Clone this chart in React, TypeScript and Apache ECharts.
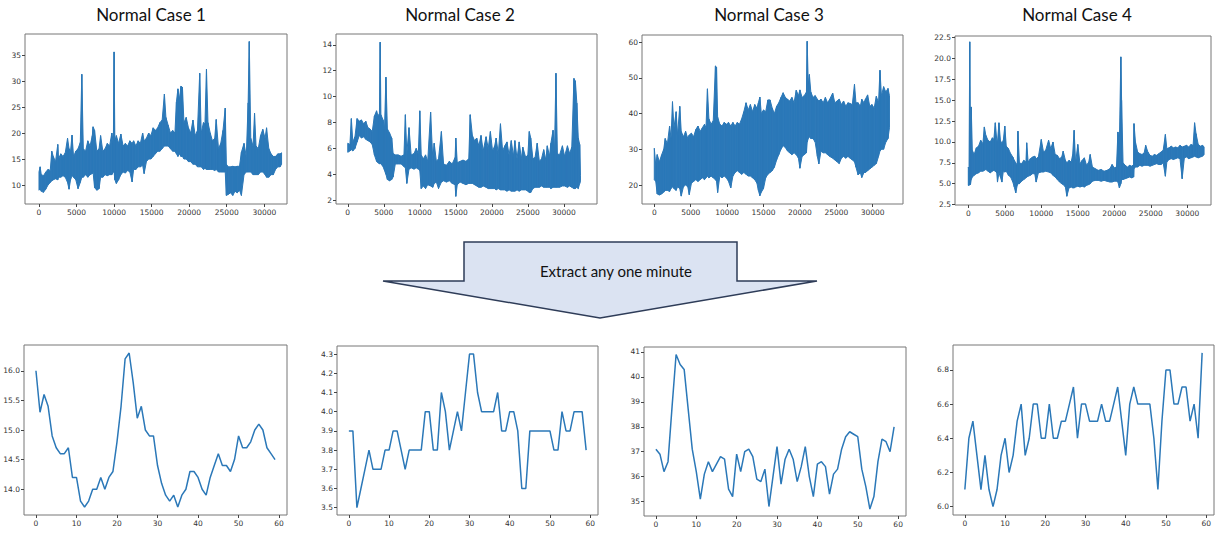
import React, { useEffect, useRef } from "react";
import * as echarts from "echarts";

// ---------- DATA ----------
// Top row: dense ~32k-point traces, recorded as [x, lower edge, upper edge] of the drawn band
const case1Band = [
  [0, 9.0, 12.5], [150, 9.3, 13.5], [300, 8.8, 12.0], [600, 8.6, 11.8], [900, 9.2, 12.5],
  [1200, 10.0, 13.0], [1500, 10.5, 12.8], [1700, 10.8, 16.5], [1900, 11.0, 15.5], [2200, 11.2, 14.5],
  [2500, 11.0, 17.8], [2600, 11.5, 15.0], [2900, 11.5, 16.0], [3200, 11.8, 15.5], [3500, 11.5, 16.2],
  [3800, 10.5, 19.0], [4000, 9.2, 17.0], [4200, 11.0, 16.5], [4400, 11.8, 19.6], [4600, 11.5, 15.5],
  [4900, 11.0, 16.5], [5200, 9.3, 17.0], [5500, 10.5, 18.2], [5700, 11.5, 31.3], [5900, 11.5, 17.0],
  [6200, 12.0, 16.5], [6500, 11.5, 18.5], [6800, 12.0, 17.5], [7100, 12.2, 19.5], [7200, 12.5, 21.2],
  [7400, 9.5, 20.5], [7700, 9.0, 16.5], [8000, 9.3, 17.0], [8200, 11.5, 19.5], [8500, 11.5, 16.5],
  [8800, 12.0, 17.0], [9100, 11.8, 18.0], [9400, 12.0, 17.5], [9700, 12.0, 20.0], [9900, 12.5, 18.0],
  [10000, 12.5, 35.6], [10100, 11.0, 18.5], [10300, 10.3, 19.5], [10600, 11.0, 18.0], [10900, 12.0, 19.8],
  [11200, 12.5, 17.5], [11500, 12.3, 18.0], [11800, 12.8, 17.5], [12100, 12.5, 18.5], [12400, 10.6, 18.0],
  [12600, 13.0, 18.5], [12900, 13.0, 17.5], [13200, 13.5, 18.5], [13500, 13.5, 18.0], [13800, 13.8, 20.0],
  [14000, 12.2, 18.5], [14300, 14.5, 19.0], [14600, 15.0, 20.0], [14900, 15.0, 19.5], [15200, 15.5, 21.0],
  [15500, 16.0, 20.5], [15800, 16.5, 21.0], [16100, 16.5, 22.0], [16400, 17.0, 22.5], [16700, 17.5, 27.5],
  [16900, 17.5, 23.0], [17200, 17.5, 21.5], [17500, 17.0, 20.0], [17800, 16.5, 20.5], [18100, 16.5, 20.0],
  [18300, 16.0, 26.0], [18500, 15.5, 28.5], [18700, 16.0, 26.5], [18900, 15.5, 29.0], [19100, 15.5, 28.8],
  [19300, 15.0, 22.0], [19600, 15.0, 23.0], [19900, 14.5, 21.0], [20200, 14.5, 20.0], [20500, 14.0, 22.5],
  [20800, 14.0, 19.5], [21100, 13.5, 20.5], [21400, 13.5, 31.5], [21600, 13.5, 20.0], [21900, 13.0, 22.0],
  [22100, 13.2, 21.8], [22300, 13.0, 32.3], [22500, 13.0, 22.0], [22800, 13.0, 20.0], [23100, 13.0, 18.5],
  [23400, 12.8, 19.0], [23600, 13.0, 22.6], [23900, 12.5, 17.0], [24200, 12.5, 18.0], [24500, 12.5, 20.5],
  [24800, 12.5, 24.8], [24950, 8.0, 14.0], [25200, 8.2, 13.5], [25500, 8.5, 13.5], [25800, 8.0, 13.6],
  [26100, 8.8, 13.5], [26400, 8.5, 13.6], [26700, 9.0, 13.6], [26950, 8.0, 16.3], [27300, 12.0, 18.0],
  [27600, 12.5, 15.5], [27850, 12.5, 25.8], [28000, 12.5, 37.6], [28200, 12.5, 19.0], [28500, 12.0, 17.5],
  [28700, 12.0, 23.8], [28900, 12.0, 17.5], [29200, 12.0, 17.0], [29500, 12.5, 19.5], [29800, 12.5, 20.7],
  [30100, 12.0, 19.0], [30300, 11.5, 21.0], [30600, 11.5, 17.0], [30900, 12.0, 16.0], [31200, 12.0, 15.5],
  [31500, 13.0, 15.5], [31800, 13.5, 16.0], [32100, 13.5, 16.0], [32300, 14.0, 16.2],
];

const case2Band = [
  [0, 5.7, 6.4], [300, 5.8, 6.3], [500, 5.9, 8.3], [700, 5.8, 6.5], [1000, 6.0, 6.9],
  [1300, 6.5, 8.3], [1600, 7.0, 8.1], [1900, 6.8, 8.2], [2200, 6.9, 7.9], [2500, 6.7, 8.1],
  [2800, 6.6, 7.6], [3100, 6.5, 7.5], [3400, 6.3, 7.3], [3700, 5.5, 8.5], [4000, 5.0, 8.9],
  [4200, 4.9, 8.5], [4400, 4.8, 8.7], [4500, 5.0, 14.2], [4600, 4.8, 8.6], [4900, 4.6, 8.2],
  [5100, 4.3, 7.5], [5300, 4.0, 11.5], [5500, 3.6, 7.5], [5800, 3.5, 7.2], [6100, 3.6, 6.8],
  [6300, 3.8, 5.6], [6600, 4.8, 5.5], [7000, 4.8, 5.5], [7400, 4.8, 5.4], [7800, 4.6, 5.5],
  [8000, 4.5, 8.6], [8200, 3.3, 5.6], [8500, 4.4, 7.6], [8800, 4.5, 5.5], [9200, 4.4, 5.6],
  [9500, 4.5, 6.0], [9800, 4.4, 5.6], [10000, 4.3, 8.9], [10200, 2.9, 5.5], [10500, 3.1, 5.2],
  [10800, 2.9, 5.5], [11100, 3.2, 5.0], [11500, 3.1, 8.8], [11800, 3.0, 5.2], [12000, 3.3, 6.4],
  [12300, 3.4, 5.0], [12600, 2.9, 5.2], [13000, 3.4, 7.3], [13300, 3.5, 4.8], [13700, 3.4, 4.7],
  [14100, 3.5, 5.0], [14500, 3.3, 4.8], [14900, 3.2, 5.3], [15000, 2.3, 6.8], [15200, 3.2, 4.9],
  [15600, 3.4, 5.0], [16000, 3.3, 5.1], [16400, 3.2, 5.0], [16800, 3.3, 5.2], [17000, 3.3, 8.6],
  [17300, 3.3, 7.0], [17600, 3.2, 6.6], [17900, 3.1, 6.8], [18200, 3.0, 6.2], [18500, 3.0, 7.0],
  [18800, 3.1, 5.8], [19200, 3.0, 6.9], [19500, 2.9, 6.0], [19800, 2.9, 7.3], [20100, 2.9, 5.8],
  [20400, 2.9, 6.2], [20600, 2.8, 6.8], [20900, 2.9, 5.6], [21200, 2.8, 7.9], [21500, 2.8, 5.8],
  [21800, 2.8, 6.2], [22100, 2.7, 6.5], [22400, 2.8, 5.5], [22700, 2.7, 6.6], [23000, 2.7, 5.4],
  [23200, 2.7, 6.6], [23500, 2.8, 5.2], [23800, 2.7, 6.5], [24100, 2.8, 5.2], [24300, 2.8, 6.1],
  [24700, 2.8, 5.3], [25000, 2.7, 5.5], [25200, 2.6, 7.3], [25400, 2.6, 6.8], [25700, 2.9, 5.2],
  [26000, 3.0, 5.3], [26300, 3.0, 6.4], [26600, 3.0, 5.0], [26900, 3.1, 5.2], [27200, 3.0, 5.9],
  [27500, 3.0, 5.1], [27700, 3.0, 6.2], [28000, 3.0, 5.4], [28200, 2.9, 6.4], [28500, 3.0, 7.4],
  [28700, 3.0, 5.8], [28900, 3.0, 11.8], [29100, 3.0, 5.6], [29400, 3.0, 5.5], [29800, 3.1, 6.2],
  [30100, 3.1, 5.4], [30500, 3.0, 6.2], [30800, 3.1, 5.6], [31100, 3.0, 6.1], [31400, 2.9, 11.4],
  [31600, 2.9, 11.2], [31800, 3.0, 9.5], [32000, 2.9, 6.8], [32200, 3.3, 6.3], [32300, 3.5, 3.9],
];

const case3Band = [
  [0, 21.5, 30.3], [200, 21.0, 25.5], [400, 17.5, 28.5], [700, 17.2, 26.5], [1000, 17.5, 28.4],
  [1300, 18.0, 30.0], [1500, 18.5, 33.0], [1800, 18.5, 31.5], [2100, 18.2, 36.5], [2300, 19.0, 33.0],
  [2500, 19.5, 43.3], [2700, 19.0, 36.0], [3000, 18.5, 40.5], [3200, 19.5, 34.0], [3500, 19.0, 42.0],
  [3700, 16.9, 35.0], [4000, 19.5, 33.5], [4300, 20.0, 35.0], [4600, 19.5, 33.0], [4800, 17.3, 34.0],
  [5100, 20.5, 34.5], [5400, 21.0, 33.5], [5700, 21.5, 35.5], [6000, 21.0, 36.5], [6300, 21.5, 35.0],
  [6600, 22.0, 36.0], [6900, 21.5, 37.0], [7100, 22.0, 36.0], [7300, 22.5, 46.9], [7500, 22.0, 38.5],
  [7800, 22.5, 37.0], [8100, 22.0, 38.0], [8400, 21.5, 53.3], [8550, 21.0, 53.0], [8700, 17.9, 39.0],
  [9000, 22.5, 37.0], [9300, 22.0, 36.5], [9600, 22.5, 37.5], [9900, 22.0, 37.0], [10200, 21.0, 37.5],
  [10500, 19.2, 36.5], [10800, 22.5, 37.5], [11100, 23.5, 36.5], [11400, 24.0, 37.5], [11700, 23.5, 37.0],
  [12000, 23.0, 38.5], [12300, 23.5, 40.5], [12600, 23.0, 43.0], [12900, 22.5, 41.0], [13200, 22.5, 42.5],
  [13500, 22.0, 40.5], [13800, 21.5, 42.5], [14100, 20.5, 41.5], [14300, 18.5, 43.0], [14500, 17.0, 44.6],
  [14700, 18.0, 40.0], [15000, 19.0, 41.0], [15300, 22.0, 40.5], [15600, 23.0, 43.8], [15900, 23.5, 43.8],
  [16200, 24.0, 41.5], [16500, 25.0, 40.0], [16800, 27.0, 42.0], [17100, 28.5, 43.0], [17400, 30.0, 44.5],
  [17700, 31.0, 45.8], [18000, 30.5, 44.5], [18300, 29.5, 44.0], [18600, 29.0, 43.5], [18900, 28.5, 44.5],
  [19200, 29.0, 43.0], [19500, 28.5, 46.5], [19800, 27.5, 45.0], [20000, 24.7, 46.6], [20300, 28.0, 44.5],
  [20600, 28.5, 45.0], [20900, 29.0, 46.0], [21000, 32.0, 60.2], [21150, 33.0, 48.0], [21300, 33.5, 50.9],
  [21500, 33.0, 46.0], [21800, 33.0, 44.5], [22100, 32.0, 45.0], [22400, 28.0, 44.0], [22600, 25.9, 43.5],
  [22900, 29.5, 44.0], [23200, 29.0, 43.0], [23500, 29.0, 44.5], [23800, 28.5, 43.0], [24100, 28.0, 44.0],
  [24500, 27.5, 45.7], [24800, 27.0, 43.0], [25100, 26.5, 43.5], [25400, 26.0, 44.0], [25700, 27.5, 42.5],
  [26000, 28.0, 43.5], [26300, 27.5, 42.0], [26600, 28.0, 43.0], [26900, 27.5, 42.8], [27200, 27.0, 42.5],
  [27500, 26.5, 48.2], [27700, 25.0, 43.0], [28000, 22.8, 43.0], [28300, 23.5, 42.0], [28500, 22.1, 44.0],
  [28800, 23.5, 43.0], [29000, 23.5, 44.0], [29300, 24.0, 45.2], [29600, 24.5, 42.0], [29900, 25.0, 42.5],
  [30200, 25.5, 41.5], [30500, 26.0, 44.8], [30800, 28.0, 43.0], [31000, 29.5, 52.1], [31200, 30.0, 45.0],
  [31500, 30.0, 47.5], [31800, 32.0, 46.0], [32100, 33.0, 47.0], [32300, 36.0, 45.0],
];

const case4Band = [
  [0, 4.8, 7.0], [100, 4.8, 6.5], [200, 5.0, 22.0], [300, 4.9, 8.0], [400, 5.5, 14.2],
  [550, 5.8, 9.0], [800, 6.0, 8.5], [1100, 6.2, 9.3], [1400, 6.3, 9.5], [1700, 6.5, 10.2],
  [2000, 6.5, 9.8], [2200, 6.6, 11.8], [2400, 6.7, 10.8], [2700, 6.5, 10.2], [3000, 6.3, 10.0],
  [3300, 6.5, 10.5], [3500, 6.6, 10.3], [3700, 6.5, 12.3], [3900, 6.3, 10.2], [4000, 5.2, 10.0],
  [4200, 6.3, 12.3], [4400, 5.8, 10.2], [4600, 5.2, 9.8], [4800, 6.5, 10.2], [5000, 6.4, 11.9],
  [5200, 6.5, 9.5], [5500, 6.0, 9.2], [5800, 5.8, 8.6], [6100, 5.2, 8.2], [6300, 4.6, 7.8],
  [6500, 3.9, 7.5], [6700, 4.8, 7.2], [6800, 5.0, 11.3], [7000, 5.0, 7.5], [7300, 5.3, 7.4],
  [7600, 5.5, 7.8], [7900, 5.7, 7.6], [8000, 5.8, 9.9], [8200, 5.9, 7.6], [8500, 6.0, 8.0],
  [8800, 6.2, 8.2], [9100, 6.2, 8.3], [9300, 5.2, 8.0], [9600, 6.3, 8.2], [10000, 6.4, 10.3],
  [10300, 6.4, 8.8], [10600, 6.5, 9.0], [11000, 6.4, 10.2], [11300, 6.3, 9.2], [11600, 6.0, 10.0],
  [11900, 5.8, 8.5], [12200, 5.5, 8.4], [12500, 5.2, 8.0], [12800, 5.0, 8.2], [13000, 4.9, 8.9],
  [13300, 4.6, 7.8], [13500, 3.5, 7.5], [13800, 4.5, 7.8], [14100, 4.6, 7.6], [14300, 4.5, 8.5],
  [14500, 4.5, 11.4], [14700, 4.6, 7.5], [15000, 4.7, 9.7], [15300, 4.6, 7.4], [15600, 4.7, 7.8],
  [15900, 4.6, 8.1], [16200, 4.8, 7.2], [16500, 4.9, 7.6], [16700, 5.0, 8.5], [17000, 5.3, 7.0],
  [17400, 5.4, 6.8], [17800, 5.4, 6.6], [18200, 5.3, 6.7], [18600, 5.4, 6.5], [19000, 5.3, 6.6],
  [19400, 5.2, 6.8], [19700, 5.2, 7.3], [20000, 5.3, 6.9], [20300, 5.3, 7.0], [20500, 5.2, 11.2],
  [20700, 4.5, 10.0], [20900, 5.0, 20.2], [21000, 5.5, 15.0], [21200, 5.5, 7.5], [21500, 5.6, 7.2],
  [21800, 5.7, 7.0], [22100, 5.8, 7.2], [22400, 5.7, 7.1], [22650, 5.8, 7.3], [22700, 6.8, 12.2],
  [22900, 7.0, 10.0], [23200, 7.0, 8.8], [23500, 7.2, 8.6], [23800, 7.1, 8.5], [24100, 7.2, 8.7],
  [24300, 7.2, 9.6], [24600, 7.2, 8.8], [24900, 7.1, 8.4], [25200, 7.2, 8.3], [25500, 7.3, 8.5],
  [25800, 7.4, 8.4], [26100, 7.3, 8.6], [26400, 7.3, 8.8], [26700, 7.5, 9.0], [27000, 5.9, 10.9],
  [27200, 7.6, 9.2], [27500, 7.9, 9.3], [27800, 8.0, 9.5], [28100, 7.9, 9.3], [28400, 8.0, 9.4],
  [28700, 8.1, 9.3], [29000, 8.0, 9.6], [29300, 5.6, 9.4], [29600, 8.1, 9.5], [29900, 8.2, 9.6],
  [30200, 8.0, 9.4], [30500, 8.1, 9.7], [30800, 8.2, 9.6], [31000, 8.3, 12.3], [31200, 8.2, 11.0],
  [31500, 8.1, 9.7], [31800, 8.2, 9.5], [32100, 8.3, 9.6], [32300, 8.5, 9.4],
];

// Bottom row: one extracted minute (60 samples each)
const minute1 = [
  16.0, 15.3, 15.6, 15.4, 14.9, 14.7, 14.6, 14.6, 14.7, 14.2,
  14.2, 13.8, 13.7, 13.8, 14.0, 14.0, 14.2, 14.0, 14.2, 14.3,
  14.8, 15.4, 16.2, 16.3, 15.8, 15.2, 15.4, 15.0, 14.9, 14.9,
  14.4, 14.1, 13.9, 13.8, 13.9, 13.7, 13.9, 14.0, 14.3, 14.3,
  14.2, 14.0, 13.9, 14.2, 14.4, 14.6, 14.4, 14.4, 14.3, 14.5,
  14.9, 14.7, 14.7, 14.8, 15.0, 15.1, 15.0, 14.7, 14.6, 14.5,
];
const minute2 = [
  3.9, 3.9, 3.5, 3.6, 3.7, 3.8, 3.7, 3.7, 3.7, 3.8,
  3.8, 3.9, 3.9, 3.8, 3.7, 3.8, 3.8, 3.8, 3.8, 4.0,
  4.0, 3.8, 3.8, 4.1, 4.0, 3.8, 3.9, 4.0, 3.9, 4.1,
  4.3, 4.3, 4.1, 4.0, 4.0, 4.0, 4.0, 4.1, 3.9, 3.9,
  4.0, 4.0, 3.9, 3.6, 3.6, 3.9, 3.9, 3.9, 3.9, 3.9,
  3.9, 3.8, 3.8, 4.0, 3.9, 3.9, 4.0, 4.0, 4.0, 3.8,
];
const minute3 = [
  37.1, 36.9, 36.2, 36.6, 38.8, 40.9, 40.5, 40.3, 38.7, 37.1,
  36.2, 35.1, 36.1, 36.6, 36.2, 36.5, 36.8, 36.7, 35.5, 35.2,
  36.9, 36.2, 37.0, 37.1, 36.8, 35.9, 35.8, 36.3, 34.8, 36.0,
  37.2, 35.7, 36.7, 37.1, 36.7, 35.8, 36.4, 37.2, 36.0, 35.2,
  36.5, 36.6, 36.4, 35.3, 36.1, 36.3, 37.1, 37.6, 37.8, 37.7,
  37.6, 36.3, 35.6, 34.7, 35.2, 36.6, 37.5, 37.4, 37.0, 38.0,
];
const minute4 = [
  6.1, 6.4, 6.5, 6.3, 6.1, 6.3, 6.1, 6.0, 6.1, 6.3,
  6.4, 6.2, 6.3, 6.5, 6.6, 6.3, 6.4, 6.6, 6.6, 6.4,
  6.4, 6.6, 6.4, 6.4, 6.5, 6.5, 6.6, 6.7, 6.4, 6.6,
  6.6, 6.5, 6.5, 6.5, 6.6, 6.5, 6.5, 6.6, 6.7, 6.5,
  6.3, 6.6, 6.7, 6.6, 6.6, 6.6, 6.6, 6.4, 6.1, 6.5,
  6.8, 6.8, 6.6, 6.6, 6.7, 6.7, 6.5, 6.6, 6.4, 6.9,
];

const titles = ["Normal Case 1", "Normal Case 2", "Normal Case 3", "Normal Case 4"];
const arrowLabel = "Extract any one minute";

const topXTicks = [0, 5000, 10000, 15000, 20000, 25000, 30000];
const bottomXTicks = [0, 10, 20, 30, 40, 50, 60];
const topYTicks = [
  [10, 15, 20, 25, 30, 35],
  [2, 4, 6, 8, 10, 12, 14],
  [20, 30, 40, 50, 60],
  [2.5, 5, 7.5, 10, 12.5, 15, 17.5, 20, 22.5],
];
const bottomYTicks = [
  [14, 14.5, 15, 15.5, 16],
  [3.5, 3.6, 3.7, 3.8, 3.9, 4.0, 4.1, 4.2, 4.3],
  [35, 36, 37, 38, 39, 40, 41],
  [6.0, 6.2, 6.4, 6.6, 6.8],
];

// ---------- LAYOUT ----------
const topGrids = [
  { left: 25, top: 34, width: 262, height: 170, x: [-1864, 33023], y: [6.35, 39.05] },
  { left: 336, top: 34, width: 261, height: 170, x: [-1632, 34600], y: [1.71, 14.83] },
  { left: 642, top: 35, width: 261, height: 169, x: [-1689, 34162], y: [14.69, 61.96] },
  { left: 955, top: 36, width: 256, height: 169, x: [-1822, 33250], y: [2.45, 22.7] },
];
const bottomGrids = [
  { left: 24, top: 345, width: 263, height: 170, x: [-2.95, 61.95], y: [13.565, 16.435], dec: 1 },
  { left: 337, top: 346, width: 261, height: 169, x: [-2.95, 61.95], y: [3.462, 4.342], dec: 1 },
  { left: 644, top: 347, width: 262, height: 169, x: [-2.95, 61.95], y: [34.42, 41.2], dec: 0 },
  { left: 953, top: 345, width: 261, height: 170, x: [-2.95, 61.95], y: [5.951, 6.946], dec: 1 },
];
const titleCenters = [151, 460, 769, 1077];

const LINE = "#2b78b8";
const TICK_FONT = "DejaVu Sans";

function axisCommon(ticks: number[], fmt: (v: number) => string) {
  return {
    type: "value",
    axisLine: { show: false, onZero: false },
    splitLine: { show: false },
    axisTick: { show: true, inside: false, customValues: ticks, length: 3, lineStyle: { color: "#444", width: 1 } },
    axisLabel: {
      show: true,
      customValues: ticks,
      formatter: (v: number) => fmt(v),
      fontSize: 7.5,
      fontFamily: TICK_FONT,
      color: "#333",
      margin: 4,
      showMinLabel: true,
      showMaxLabel: true,
      hideOverlap: false,
    },
  };
}

// custom-series renderer: a filled quad between consecutive [x, lo, hi] records
function bandRenderer(band: number[][]) {
  return (params: any, api: any) => {
    const i = params.dataIndex;
    if (i >= band.length - 1) return { type: "group", children: [] };
    const a = band[i];
    const b = band[i + 1];
    const p1 = api.coord([a[0], a[1]]);
    const p2 = api.coord([a[0], a[2]]);
    const p3 = api.coord([b[0], b[2]]);
    const p4 = api.coord([b[0], b[1]]);
    return {
      type: "polygon",
      shape: { points: [p1, p2, p3, p4] },
      style: { fill: LINE, stroke: LINE, lineWidth: 1, lineJoin: "miter" },
      silent: true,
    };
  };
}

export default function App() {
  const ref = useRef<HTMLDivElement>(null);

  useEffect(() => {
    if (!ref.current) return;
    const chart = echarts.init(ref.current, undefined, { renderer: "svg" });

    const grids: any[] = [];
    const xAxes: any[] = [];
    const yAxes: any[] = [];
    const series: any[] = [];
    const bands = [case1Band, case2Band, case3Band, case4Band];
    const minutes = [minute1, minute2, minute3, minute4];

    topGrids.forEach((g, i) => {
      grids.push({
        left: g.left, top: g.top, width: g.width, height: g.height,
        show: true, borderColor: "#777", borderWidth: 1, backgroundColor: "transparent",
      });
      xAxes.push({ ...axisCommon(topXTicks, (v) => String(v)), gridIndex: i, position: "bottom", min: g.x[0], max: g.x[1] });
      const yFmt = i === 3 ? (v: number) => v.toFixed(1) : (v: number) => String(v);
      yAxes.push({ ...axisCommon(topYTicks[i], yFmt), gridIndex: i, position: "left", min: g.y[0], max: g.y[1] });
      const band = bands[i];
      series.push({
        type: "custom",
        xAxisIndex: i,
        yAxisIndex: i,
        silent: true,
        clip: true,
        encode: { x: 0, y: [1, 2] },
        data: band,
        renderItem: bandRenderer(band),
      });
    });

    bottomGrids.forEach((g, j) => {
      const i = j + 4;
      grids.push({
        left: g.left, top: g.top, width: g.width, height: g.height,
        show: true, borderColor: "#777", borderWidth: 1, backgroundColor: "transparent",
      });
      xAxes.push({ ...axisCommon(bottomXTicks, (v) => String(v)), gridIndex: i, position: "bottom", min: g.x[0], max: g.x[1] });
      yAxes.push({
        ...axisCommon(bottomYTicks[j], (v) => v.toFixed(g.dec)),
        gridIndex: i, position: "left", min: g.y[0], max: g.y[1],
      });
      series.push({
        type: "line", xAxisIndex: i, yAxisIndex: i, symbol: "none", silent: true,
        data: minutes[j].map((v, k) => [k, v]),
        lineStyle: { color: LINE, width: 1.5 },
      });
    });

    const graphic: any[] = titles.map((t, i) => ({
      type: "text",
      x: titleCenters[i],
      y: 14,
      style: {
        text: t, fill: "#111", fontSize: 17, fontFamily: "Lato",
        align: "center", verticalAlign: "middle", textAlign: "center", textVerticalAlign: "middle",
      },
    }));
    graphic.push({
      type: "polygon",
      shape: { points: [[464, 242], [737, 242], [737, 281], [817, 281], [600, 318], [383, 281], [464, 281]] },
      style: { fill: "#dbe3f2", stroke: "#2e3c58", lineWidth: 1.5 },
    });
    graphic.push({
      type: "text",
      x: 616,
      y: 271,
      style: {
        text: arrowLabel, fill: "#111", fontSize: 15, fontFamily: "Lato",
        align: "center", verticalAlign: "middle", textAlign: "center", textVerticalAlign: "middle",
      },
    });

    chart.setOption({
      animation: false,
      backgroundColor: "#ffffff",
      grid: grids,
      xAxis: xAxes,
      yAxis: yAxes,
      series,
      graphic,
    });

    return () => chart.dispose();
  }, []);

  return (
    <div
      ref={ref}
      style={{ position: "absolute", left: 0, top: 0, width: 1216, height: 538 }}
    />
  );
}
